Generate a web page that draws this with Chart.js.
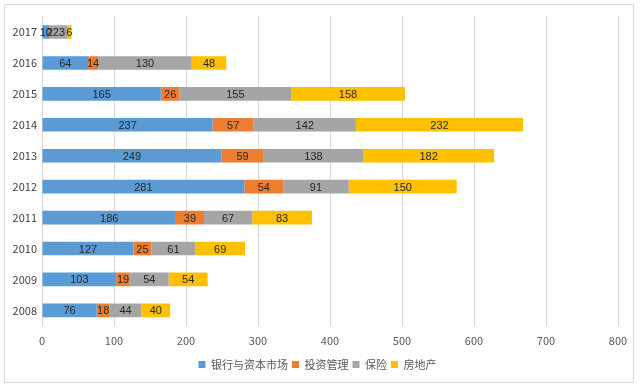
<!DOCTYPE html>
<html>
<head>
<meta charset="utf-8">
<script src="https://cdn.jsdelivr.net/npm/chart.js@4"></script>
<style>
  body { margin: 0; background: #fff; }
  #box { position: absolute; left: 4px; top: 4px; width: 630px; height: 379px; border: 1px solid #d9d9d9; box-sizing: border-box; }
  canvas { display: block; }
</style>
</head>
<body>
<div id="box"><canvas id="chart"></canvas></div>
<script>
// years, bottom (2008) to top (2017)
const years = ['2008', '2009', '2010', '2011', '2012', '2013', '2014', '2015', '2016', '2017'];
const banking = [76, 103, 127, 186, 281, 249, 237, 165, 64, 10];
const investment = [18, 19, 25, 39, 54, 59, 57, 26, 14, 2];
const insurance = [44, 54, 61, 67, 91, 138, 142, 155, 130, 23];
const realEstate = [40, 54, 69, 83, 150, 182, 232, 158, 48, 6];
const xTicks = [0, 100, 200, 300, 400, 500, 600, 700, 800];

const FONT = '"Noto Sans CJK SC", "Liberation Sans", sans-serif';
const NUM_FONT = '"Liberation Sans Narrow", "Liberation Sans", sans-serif';

// draw value labels in the middle of each bar segment
const barLabels = {
  id: 'barLabels',
  afterDatasetsDraw(chart) {
    const ctx = chart.ctx;
    ctx.save();
    ctx.font = '11px ' + NUM_FONT;
    ctx.fillStyle = '#262626';
    ctx.textAlign = 'center';
    ctx.textBaseline = 'middle';
    chart.data.datasets.forEach((ds, i) => {
      chart.getDatasetMeta(i).data.forEach((bar, j) => {
        const x = (bar.x + bar.base) / 2;
        ctx.fillText(ds.data[j], x, bar.y + 1);
      });
    });
    ctx.restore();
  }
};

const ds = (label, data, color) => ({
  label, data, backgroundColor: color, borderWidth: 0,
  barPercentage: 0.44, categoryPercentage: 1
});

new Chart(document.getElementById('chart'), {
  type: 'bar',
  data: {
    labels: years,
    datasets: [
      ds('银行与资本市场', banking, '#5b9bd5'),
      ds('投资管理', investment, '#ed7d31'),
      ds('保险', insurance, '#a5a5a5'),
      ds('房地产', realEstate, '#ffc000')
    ]
  },
  plugins: [barLabels],
  options: {
    indexAxis: 'y',
    responsive: true,
    maintainAspectRatio: false,
    animation: false,
    layout: { padding: { left: 1, right: 4, top: 11, bottom: 2 } },
    scales: {
      x: {
        stacked: true,
        min: 0, max: 800,
        afterBuildTicks: axis => { axis.ticks = xTicks.map(v => ({ value: v })); },
        afterFit: axis => { axis.paddingRight = 15; },
        grid: { color: '#d9d9d9', drawTicks: false },
        border: { display: false },
        ticks: { color: '#595959', font: { family: FONT, size: 11 }, padding: 8 }
      },
      y: {
        stacked: true,
        reverse: true,
        afterFit: axis => { axis.width = 36; },
        grid: { display: false, drawTicks: false },
        border: { display: false },
        ticks: { color: '#404040', font: { family: FONT, size: 11 }, padding: 5 }
      }
    },
    plugins: {
      legend: {
        position: 'bottom',
        labels: { boxWidth: 7, boxHeight: 7, padding: 4, color: '#595959', font: { family: FONT, size: 11 } }
      },
      tooltip: { enabled: false }
    }
  }
});
</script>
</body>
</html>
